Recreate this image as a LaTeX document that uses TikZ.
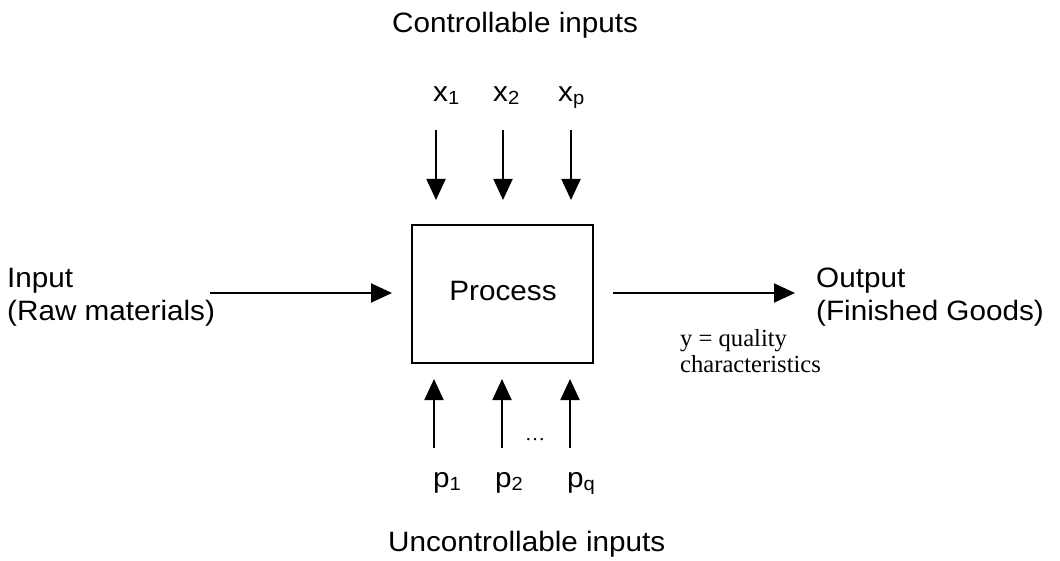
\documentclass[tikz,border=0pt]{standalone}
\usepackage{fontspec}
\setmainfont{Liberation Sans}[FakeStretch=1.06]
\newfontfamily\tnrfont{Liberation Serif}
\usetikzlibrary{arrows.meta}
\newcommand{\mysub}[1]{\raisebox{-3pt}{\fontsize{19}{19}\selectfont #1}}
\tikzset{
  lbl/.style={inner sep=0pt, anchor=base west, font=\fontsize{28}{32}\selectfont},
  small/.style={inner sep=0pt, anchor=base west, font=\tnrfont\fontsize{24.6}{27}\selectfont},
  arr/.style={line width=1.9pt, -{Triangle[width=19pt,length=21pt]}},
  procbox/.style={draw, line width=2pt, minimum width=181pt, minimum height=138pt, inner sep=0pt}
}
\begin{document}
\begin{tikzpicture}[x=1pt,y=-1pt]
\useasboundingbox (0,0) rectangle (1060,561);
\fill[white] (0,0) rectangle (1060,561);

% titles
\node[lbl] (ctl) at (392,33) {Controllable inputs};
\node[lbl] (unc) at (388,551) {Uncontrollable inputs};

% process box
\node[procbox] (box) at (502.5,294) {};
\node[inner sep=0pt, anchor=base, font=\fontsize{28}{32}\selectfont] (proc) at (503,301) {Process};

% controllable labels
\node[lbl] (x1) at (433,102) {x\mysub{1}};
\node[lbl] (x2) at (493,102) {x\mysub{2}};
\node[lbl] (xp) at (558,102) {x\mysub{p}};

% uncontrollable labels
\node[lbl] (p1) at (433,487) {p\mysub{1}};
\node[lbl] (p2) at (495,487) {p\mysub{2}};
\node[lbl] (pq) at (567,487) {p\mysub{q}};
\node[inner sep=0pt, anchor=base, font=\tnrfont\fontsize{20}{20}\selectfont] (dots) at (535,440) {\ldots};

% input / output texts
\node[lbl] (in1) at (7,288) {Input};
\node[lbl] (in2) at (7,320) {(Raw materials)};
\node[lbl] (out1) at (816,288) {Output};
\node[lbl] (out2) at (816,320) {(Finished Goods)};
\node[small] (y1) at (680,346) {y = quality};
\node[small] (y2) at (680,372) {characteristics};

% arrow end points
\coordinate (dx1s) at (436,130); \coordinate (dx1e) at (436,200);
\coordinate (dx2s) at (503,130); \coordinate (dx2e) at (503,200);
\coordinate (dxps) at (571,130); \coordinate (dxpe) at (571,200);
\coordinate (up1s) at (434,448); \coordinate (up1e) at (434,379);
\coordinate (up2s) at (502,448); \coordinate (up2e) at (502,379);
\coordinate (upqs) at (570,448); \coordinate (upqe) at (570,379);
\coordinate (ins) at (210,293); \coordinate (ine) at (392,293);
\coordinate (outs) at (613,293); \coordinate (oute) at (795,293);

\draw[arr] (dx1s) -- (dx1e);
\draw[arr] (dx2s) -- (dx2e);
\draw[arr] (dxps) -- (dxpe);
\draw[arr] (up1s) -- (up1e);
\draw[arr] (up2s) -- (up2e);
\draw[arr] (upqs) -- (upqe);
\draw[arr] (ins) -- (ine);
\draw[arr] (outs) -- (oute);
\end{tikzpicture}
\end{document}
